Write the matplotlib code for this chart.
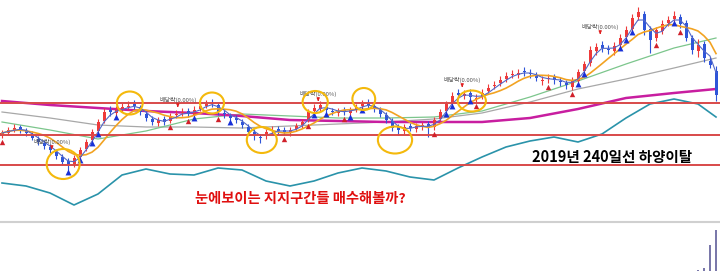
import numpy as np
import pandas as pd
import matplotlib
matplotlib.use("Agg")
import matplotlib.pyplot as plt
from matplotlib.patches import Ellipse

plt.rcParams['font.family'] = ['Noto Sans CJK KR', 'DejaVu Sans']

# ---------------- data (price units, arbitrary scale) ----------------
close = [138, 141, 143, 141, 138, 133, 129, 125, 121, 115, 109, 106, 113, 121, 129, 139, 149, 159, 159, 161,
         164, 165, 165, 159, 153, 149, 151, 149, 155, 157, 159, 157, 161, 165, 167, 167, 159, 157, 153, 151,
         146, 139, 135, 133, 139, 141, 140, 139, 141, 145, 149, 159, 163, 166, 161, 159, 160, 159, 161, 164,
         167, 166, 162, 157, 151, 143, 141, 144, 143, 145, 146, 143, 151, 159, 167, 175, 176, 177, 174, 173,
         178, 183, 186, 191, 195, 197, 198, 199, 197, 193, 191, 193, 191, 189, 186, 191, 199, 207, 221, 224,
         223, 221, 225, 233, 241, 253, 259, 241, 231, 241, 247, 251, 255, 247, 233, 221, 226, 213, 206, 176]
opens = [135, 138, 141, 144, 140, 137, 132, 128, 124, 119, 114, 110, 107, 114, 122, 131, 140, 150, 161, 158,
         162, 164, 167, 164, 157, 152, 148, 152, 150, 156, 158, 160, 156, 162, 165, 168, 166, 158, 155, 153,
         149, 144, 139, 134, 135, 140, 142, 141, 138, 142, 146, 151, 160, 162, 164, 160, 158, 161, 158, 162,
         165, 168, 165, 161, 156, 150, 144, 140, 145, 142, 144, 147, 144, 152, 160, 168, 178, 175, 178, 172,
         174, 180, 185, 188, 192, 196, 196, 200, 198, 196, 190, 192, 194, 190, 188, 184, 190, 200, 208, 220,
         226, 222, 220, 226, 234, 242, 254, 257, 242, 233, 240, 248, 252, 254, 248, 233, 220, 227, 210, 200]
high = [141, 144, 147, 146, 143, 140, 135, 131, 127, 122, 117, 113, 116, 124, 132, 142, 152, 163, 165, 165,
        168, 170, 171, 166, 160, 155, 154, 155, 158, 161, 163, 163, 165, 169, 171, 172, 168, 161, 158, 156,
        152, 147, 142, 137, 142, 145, 145, 144, 144, 148, 152, 162, 167, 170, 167, 163, 163, 164, 164, 167,
        171, 172, 168, 164, 159, 153, 147, 147, 148, 148, 149, 150, 154, 162, 170, 179, 182, 181, 182, 177,
        182, 187, 190, 195, 199, 201, 202, 204, 202, 199, 195, 197, 197, 194, 191, 194, 202, 210, 225, 228,
        230, 226, 229, 237, 245, 257, 264, 260, 245, 244, 251, 255, 260, 257, 251, 236, 232, 230, 214, 205]
low = [133, 136, 139, 138, 135, 131, 126, 122, 118, 112, 106, 100, 104, 112, 120, 129, 138, 148, 155, 155,
       159, 161, 162, 156, 150, 146, 145, 146, 148, 153, 155, 154, 154, 160, 163, 164, 156, 153, 150, 148,
       143, 136, 131, 128, 132, 137, 137, 136, 135, 140, 143, 149, 157, 159, 158, 156, 155, 156, 155, 159,
       162, 163, 159, 154, 148, 140, 136, 137, 140, 139, 141, 134, 141, 150, 158, 166, 173, 172, 171, 169,
       172, 178, 182, 185, 189, 193, 193, 195, 193, 190, 186, 188, 187, 185, 182, 181, 188, 198, 205, 216,
       219, 217, 216, 224, 232, 240, 251, 236, 218, 230, 237, 245, 249, 243, 230, 217, 214, 209, 203, 170]

# long moving averages, sampled by day
ma_days = [0, 8, 16, 24, 32, 40, 48, 56, 64, 72, 80, 88, 96, 104, 112, 119]
ma60 = [149, 141, 132, 140, 152, 157, 155, 153, 153, 154, 160, 174, 190, 207, 223, 233]
ma120 = [159, 153, 146, 144, 144, 143, 145, 147, 149, 152, 158, 169, 182, 192, 203, 213]
ma240 = [170, 166, 163, 160, 158, 155, 151, 150, 149, 149, 149, 153, 162, 173, 178, 182]
long_days = [0, 4, 8, 12, 16, 20, 24, 28, 32, 36, 40, 44, 48, 52, 56, 60, 64, 68, 72, 76,
             80, 84, 88, 92, 96, 100, 104, 108, 112, 116, 119]
ma_long = [88, 85, 78, 66, 77, 96, 102, 97, 96, 103, 101, 90, 85, 90, 98, 103, 100, 94, 91, 103,
           114, 124, 130, 134, 129, 137, 153, 167, 172, 167, 154]

support_levels = [168, 136, 106]

red_signal_days = [0, 28, 31, 36, 47, 51, 57, 72, 79, 91, 95, 109, 113]
blue_signal_days = [11, 13, 15, 16, 19, 32, 38, 52, 54, 58, 60, 74, 75, 78, 96, 97, 103, 104, 105, 112]

vol_days = [116, 117, 118, 119]
volume = [1, 3, 26, 41]

div_days = [8.3, 29.3, 52.7, 76.7, 99.7]
div_prices = [129, 171, 177, 191, 244]
div_label = "배당락(0.00%)"

circle_days = [10.2, 21.3, 35.0, 43.3, 52.2, 60.3, 65.5, 78.3]
circle_prices = [107, 168, 168, 131, 169, 172, 131, 170]
circle_w = [5.5, 4.3, 4.0, 5.0, 4.2, 3.8, 5.7, 4.7]
circle_h = [30, 23, 21, 26, 22, 22, 27, 21]

title1 = "2019년 240일선 하양이탈"
title2 = "눈에보이는 지지구간들 매수해볼까?"

# ---------------- figure ----------------
fig = plt.figure(figsize=(7.2, 2.71), dpi=100)
ax = fig.add_axes([0, 0, 1, 1])
ax.set_xlim(-1 / 3, 718 / 6)
ax.set_ylim(0, 271)
ax.axis('off')

days = np.arange(len(close))
c = np.array(close, float)
o = np.array(opens, float)
h = np.array(high, float)
l = np.array(low, float)
up = c >= o
RED = '#ee3a3a'
BLUE = '#2f55d8'
cols = np.where(up, RED, BLUE)

# moving averages
ma5 = pd.Series(c).rolling(3, min_periods=1).mean()
ma20 = pd.Series(c).rolling(7, min_periods=1).mean()

ax.plot(long_days, ma_long, color='#2a93aa', lw=1.2, zorder=2)
ax.plot(ma_days, ma120, color='#a8a8a8', lw=0.9, zorder=2)
ax.plot(ma_days, ma60, color='#7cc68c', lw=0.9, zorder=2)
ax.plot(ma_days, ma240, color='#c81ea0', lw=1.8, zorder=2)

# candles
ax.vlines(days, l, h, colors=cols, lw=0.8, zorder=3)
body_h = np.maximum(np.abs(c - o), 1.2)
ax.bar(days, body_h, bottom=np.minimum(c, o), width=0.5, color=cols, zorder=3, linewidth=0)

ax.plot(days, ma20, color='#f2a322', lw=1.2, zorder=4)
ax.plot(days, ma5, color='#5468c8', lw=0.8, zorder=4)

# signals
rs = np.array(red_signal_days)
ax.scatter(rs, l[rs] - 4, marker='^', s=15, color='#d0202a', zorder=5, linewidths=0)
bs = np.array(blue_signal_days)
ax.scatter(bs, l[bs] - 1, marker='^', s=18, color='#1830d8', zorder=5, linewidths=0)

# support lines
for lev in support_levels:
    ax.axhline(lev, color='#d84a4a', lw=1.4, zorder=4.5)

# dividend labels
for d, p in zip(div_days, div_prices):
    ax.text(d, p, div_label, fontsize=4.3, color='#555555', ha='center', va='center', zorder=6)
    ax.annotate('', xy=(d, p - 10), xytext=(d, p - 3),
                arrowprops=dict(arrowstyle='-|>', color='#e02020', lw=0.8, mutation_scale=4), zorder=6)

# circles
for d, p, w, hh in zip(circle_days, circle_prices, circle_w, circle_h):
    ax.add_patch(Ellipse((d, p), w, hh, fill=False, edgecolor='#f4b90c', lw=1.5, zorder=7))

# texts
ax.text(101.7, 114, title1, fontsize=10.5, fontweight='bold', color='black', ha='center', va='center', zorder=8)
ax.text(49.7, 72, title2, fontsize=10.3, fontweight='bold', color='#e01010', ha='center', va='center', zorder=8)

# separator and volume
ax.axhline(49, color='#d0d0d0', lw=1.5, zorder=2)
ax.bar(vol_days, volume, bottom=0, width=0.4, color='#7a78aa', zorder=3)

fig.savefig('out.png', dpi=100)
